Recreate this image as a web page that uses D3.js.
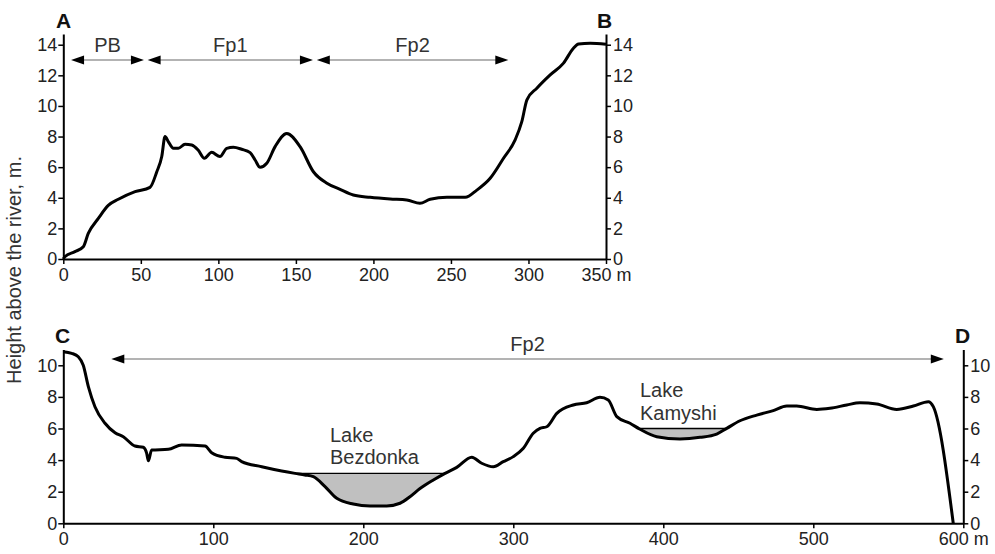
<!DOCTYPE html>
<html>
<head>
<meta charset="utf-8">
<script src="https://cdn.jsdelivr.net/npm/d3@7"></script>
<style>
  body { margin: 0; background: #fff; }
  svg { display: block; font-family: Arial, "Liberation Sans", sans-serif; }
  .axis path, .axis line { stroke: #000; }
  .axis text { fill: #222; font-size: 18px; }
</style>
</head>
<body>
<script>
// profile A-B (distance m, height m)
var distAB = [0, 1, 7.5, 12.9, 16.1, 22.6, 29, 35.5, 46.3, 55.9, 60.3, 63.5, 65.6, 67.7, 71, 74.2, 78.5, 82.8, 87.1, 91,
  95.7, 101, 105.4, 109.7, 115, 120.5, 123.7, 126.9, 131.2, 136.6, 144.1, 152.7, 161.3, 170, 178.5, 187, 197.9, 210.8,
  221.5, 230, 236.6, 247.4, 259.2, 266.7, 275.3, 283.9, 291.4, 295.7, 299, 305.4, 314, 322.6, 329, 332.3, 339.8, 350];
var heightAB = [0, 0.15, 0.48, 0.8, 1.67, 2.65, 3.5, 3.9, 4.4, 4.68, 5.7, 6.7, 8.0, 7.67, 7.23, 7.23, 7.5, 7.45, 7.1, 6.58,
  6.97, 6.69, 7.23, 7.3, 7.17, 6.95, 6.47, 5.99, 6.25, 7.34, 8.2, 7.34, 5.7, 4.95, 4.55, 4.18, 4.03, 3.92,
  3.86, 3.64, 3.9, 4.03, 4.03, 4.5, 5.27, 6.58, 7.78, 8.97, 10.4, 11.16, 12.03, 12.8, 13.77, 14.05, 14.1, 14.03];

// profile C-D
var distCD = [0, 5.6, 10, 13.3, 16.7, 21.1, 27.8, 34.5, 40, 47.8, 53.3, 55.6, 56.7, 58.9, 70, 78.9, 94.5, 98.9, 107.8,
  115.6, 118.9, 132.3, 145.6, 154.5, 161, 166.7, 174.5, 182.3, 193.3, 204.5, 215.6, 224.5, 231.1, 237.8, 246.7, 254.5,
  262.3, 272.3, 278.9, 286.7, 293.3, 300, 306.7, 313.3, 317.8, 322.3, 329, 340, 348.9, 357.8, 363.3, 369, 377.8, 384.5,
  395.6, 411.1, 424.5, 435.6, 442.3, 451.1, 462.3, 473.3, 482.3, 488.9, 502.3, 511.1, 522.3, 531.1, 542.3, 555.6,
  566.7, 576.7, 580, 593.3];
var heightCD = [10.86, 10.76, 10.54, 10.0, 8.65, 7.38, 6.33, 5.73, 5.48, 4.89, 4.81, 4.43, 3.96, 4.64, 4.68, 4.96, 4.89, 4.47, 4.18,
  4.11, 3.9, 3.58, 3.31, 3.16, 3.06, 2.95, 2.32, 1.58, 1.22, 1.1, 1.1, 1.27, 1.68, 2.2, 2.74, 3.16,
  3.54, 4.18, 3.8, 3.58, 3.9, 4.22, 4.75, 5.7, 6.01, 6.11, 6.96, 7.49, 7.63, 7.97, 7.8, 6.75, 6.33, 5.95,
  5.48, 5.34, 5.44, 5.65, 6.01, 6.49, 6.85, 7.13, 7.42, 7.42, 7.21, 7.28, 7.49, 7.63, 7.55, 7.21,
  7.42, 7.7, 7.38, 0];

// lakes on C-D
var lakeNames = [["Lake", "Bezdonka"], ["Lake", "Kamyshi"]];
var lakeStart = [154.5, 384.5];
var lakeEnd = [254.5, 442.3];
var lakeLevel = [3.16, 6.0];

// zone arrows
var zoneLabelsAB = ["PB", "Fp1", "Fp2"];
var zoneFromAB = [5, 54.4, 163.5];
var zoneToAB = [52, 161, 287];
var zoneLevelAB = 13;
var zoneLabelsCD = ["Fp2"];
var zoneFromCD = [32];
var zoneToCD = [587];
var zoneLevelCD = 10.4;

var ticksXAB = [0, 50, 100, 150, 200, 250, 300, 350];
var ticksYAB = [0, 2, 4, 6, 8, 10, 12, 14];
var ticksXCD = [0, 100, 200, 300, 400, 500, 600];
var ticksYCD = [0, 2, 4, 6, 8, 10];

var width = 995, height = 554;

var svg = d3.select("body").append("svg")
    .attr("width", width)
    .attr("height", height);

var xAB = d3.scaleLinear().domain([0, 350]).range([63.3, 606]);
var yAB = d3.scaleLinear().domain([0, 14.7]).range([259, 34]);
var xCD = d3.scaleLinear().domain([0, 600]).range([63.3, 963.3]);
var yCD = d3.scaleLinear().domain([0, 11]).range([523.3, 349.5]);

function drawAxes(x, y, xticks, yticks) {
  var last = xticks[xticks.length - 1];
  var gx = svg.append("g").attr("class", "axis")
      .attr("transform", "translate(0," + y(0) + ")")
      .call(d3.axisBottom(x).tickValues(xticks).tickSize(5).tickSizeOuter(0).tickPadding(4)
        .tickFormat(function(d) { return d == last ? d + " m" : d; }));
  var gl = svg.append("g").attr("class", "axis")
      .attr("transform", "translate(" + x(0) + ",0)")
      .call(d3.axisLeft(y).tickValues(yticks).tickSize(5).tickSizeOuter(0).tickPadding(1));
  var gr = svg.append("g").attr("class", "axis")
      .attr("transform", "translate(" + x(last) + ",0)")
      .call(d3.axisRight(y).tickValues(yticks).tickSize(5).tickSizeOuter(0).tickPadding(2));
  [gx, gl, gr].forEach(function(g) {
    g.select(".domain").attr("stroke-width", 2);
    g.selectAll(".tick line").attr("stroke-width", 1.5);
  });
}

function drawProfile(x, y, dist, h) {
  var pts = dist.map(function(d, i) { return [d, h[i]]; });
  var line = d3.line()
      .x(function(d) { return x(d[0]); })
      .y(function(d) { return y(d[1]); })
      .curve(d3.curveMonotoneX);
  svg.append("path")
    .datum(pts)
    .attr("d", line)
    .attr("fill", "none")
    .attr("stroke", "#000")
    .attr("stroke-width", 3)
    .attr("stroke-linejoin", "round");
}

function drawZones(x, y, labels, from, to, level, textSize) {
  var yy = y(level);
  labels.forEach(function(lab, i) {
    var x1 = x(from[i]), x2 = x(to[i]);
    svg.append("line")
      .attr("x1", x1 + 8).attr("x2", x2 - 8)
      .attr("y1", yy).attr("y2", yy)
      .attr("stroke", "#9a9a9a")
      .attr("stroke-width", 1.3);
    svg.append("path")
      .attr("d", "M" + x1 + "," + yy + "L" + (x1 + 13) + "," + (yy - 4.5) + "L" + (x1 + 13) + "," + (yy + 4.5) + "Z")
      .attr("fill", "#000");
    svg.append("path")
      .attr("d", "M" + x2 + "," + yy + "L" + (x2 - 13) + "," + (yy - 4.5) + "L" + (x2 - 13) + "," + (yy + 4.5) + "Z")
      .attr("fill", "#000");
    svg.append("text")
      .attr("x", (x1 + x2) / 2)
      .attr("y", yy - 8)
      .attr("text-anchor", "middle")
      .attr("font-size", textSize)
      .attr("fill", "#333")
      .text(lab);
  });
}

// lakes first so the profile line sits on top
var lakeArea = d3.area()
    .x(function(d) { return xCD(d[0]); })
    .y0(function(d) { return yCD(d[2]); })
    .y1(function(d) { return yCD(Math.min(d[1], d[2])); })
    .curve(d3.curveMonotoneX);

lakeNames.forEach(function(names, k) {
  var pts = [];
  distCD.forEach(function(d, i) {
    if (d >= lakeStart[k] && d <= lakeEnd[k]) pts.push([d, heightCD[i], lakeLevel[k]]);
  });
  svg.append("path")
    .datum(pts)
    .attr("d", lakeArea)
    .attr("fill", "#c0c0c0");
  svg.append("line")
    .attr("x1", xCD(lakeStart[k])).attr("x2", xCD(lakeEnd[k]))
    .attr("y1", yCD(lakeLevel[k])).attr("y2", yCD(lakeLevel[k]))
    .attr("stroke", "#000")
    .attr("stroke-width", 1.3);
});

drawAxes(xAB, yAB, ticksXAB, ticksYAB);
drawAxes(xCD, yCD, ticksXCD, ticksYCD);
drawProfile(xAB, yAB, distAB, heightAB);
drawProfile(xCD, yCD, distCD, heightCD);
drawZones(xAB, yAB, zoneLabelsAB, zoneFromAB, zoneToAB, zoneLevelAB, 20);
drawZones(xCD, yCD, zoneLabelsCD, zoneFromCD, zoneToCD, zoneLevelCD, 20);

// lake captions
var lakeTextX = [330, 640];
var lakeTextY = [441.5, 397];
lakeNames.forEach(function(names, k) {
  names.forEach(function(n, j) {
    svg.append("text")
      .attr("x", lakeTextX[k])
      .attr("y", lakeTextY[k] + j * 22.5)
      .attr("font-size", 20)
      .attr("fill", "#333")
      .text(n);
  });
});

// corner letters
var cornerText = ["A", "B", "C", "D"];
var cornerX = [56, 597, 55, 955];
var cornerY = [28, 28, 343, 343];
cornerText.forEach(function(t, i) {
  svg.append("text")
    .attr("x", cornerX[i])
    .attr("y", cornerY[i])
    .attr("font-size", 21)
    .attr("font-weight", "bold")
    .attr("fill", "#111")
    .text(t);
});

svg.append("text")
  .attr("transform", "translate(21,270) rotate(-90)")
  .attr("text-anchor", "middle")
  .attr("font-size", 20)
  .attr("fill", "#333")
  .text("Height above the river, m.");
</script>
</body>
</html>
